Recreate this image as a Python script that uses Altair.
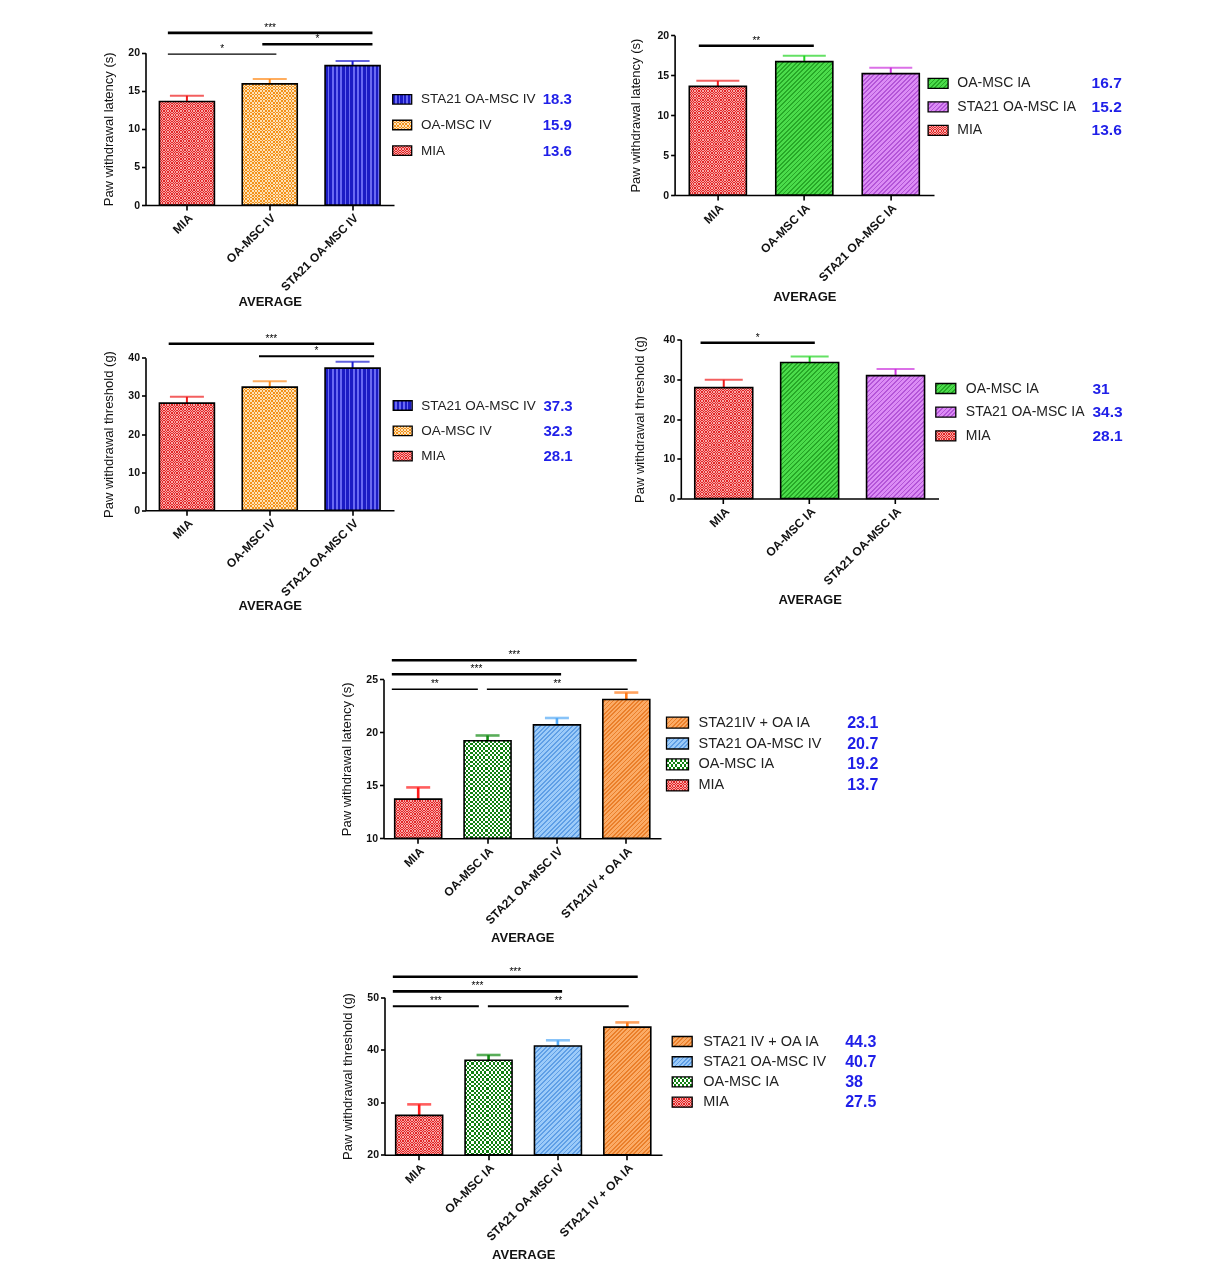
import math
import altair as alt
import pandas as pd

FONT = "Liberation Sans"

# ---------------- data ----------------
# Panel A (top left): latency, IV groups
a_cats = ["MIA", "OA-MSC IV", "STA21 OA-MSC IV"]
a_means = [13.6, 15.9, 18.3]
a_sem = [0.75, 0.65, 0.6]
a_sig_from = ["MIA", "OA-MSC IV", "MIA"]
a_sig_to = ["STA21 OA-MSC IV", "STA21 OA-MSC IV", "OA-MSC IV"]
a_sig_level = [22.6, 21.1, 19.8]
a_sig_stars = ["***", "*", "*"]
a_leg_names = ["STA21 OA-MSC IV", "OA-MSC IV", "MIA"]
a_leg_values = [18.3, 15.9, 13.6]
a_ydom = [0, 20]
a_yticks = [0, 5, 10, 15, 20]

# Panel B (top right): latency, IA groups
b_cats = ["MIA", "OA-MSC IA", "STA21 OA-MSC IA"]
b_means = [13.6, 16.7, 15.2]
b_sem = [0.7, 0.75, 0.75]
b_sig_from = ["MIA"]
b_sig_to = ["OA-MSC IA"]
b_sig_level = [18.7]
b_sig_stars = ["**"]
b_leg_names = ["OA-MSC IA", "STA21 OA-MSC IA", "MIA"]
b_leg_values = [16.7, 15.2, 13.6]
b_ydom = [0, 20]
b_yticks = [0, 5, 10, 15, 20]

# Panel C (middle left): threshold, IV groups
c_cats = ["MIA", "OA-MSC IV", "STA21 OA-MSC IV"]
c_means = [28.1, 32.3, 37.3]
c_sem = [1.65, 1.55, 1.65]
c_sig_from = ["MIA", "OA-MSC IV"]
c_sig_to = ["STA21 OA-MSC IV", "STA21 OA-MSC IV"]
c_sig_level = [43.7, 40.4]
c_sig_stars = ["***", "*"]
c_leg_names = ["STA21 OA-MSC IV", "OA-MSC IV", "MIA"]
c_leg_values = [37.3, 32.3, 28.1]
c_ydom = [0, 40]
c_yticks = [0, 10, 20, 30, 40]

# Panel D (middle right): threshold, IA groups
d_cats = ["MIA", "OA-MSC IA", "STA21 OA-MSC IA"]
d_means = [27.9, 34.2, 30.9]
d_sem = [1.95, 1.5, 1.7]
d_sig_from = ["MIA"]
d_sig_to = ["OA-MSC IA"]
d_sig_level = [39.2]
d_sig_stars = ["*"]
d_leg_names = ["OA-MSC IA", "STA21 OA-MSC IA", "MIA"]
d_leg_values = [31, 34.3, 28.1]
d_ydom = [0, 40]
d_yticks = [0, 10, 20, 30, 40]

# Panel E: latency, combined
e_cats = ["MIA", "OA-MSC IA", "STA21 OA-MSC IV", "STA21IV + OA IA"]
e_means = [13.7, 19.2, 20.7, 23.1]
e_sem = [1.1, 0.5, 0.65, 0.65]
e_sig_from = ["MIA", "MIA", "MIA", "OA-MSC IA"]
e_sig_to = ["STA21IV + OA IA", "STA21 OA-MSC IV", "OA-MSC IA", "STA21IV + OA IA"]
e_sig_level = [26.8, 25.47, 24.06, 24.06]
e_sig_stars = ["***", "***", "**", "**"]
e_leg_names = ["STA21IV + OA IA", "STA21 OA-MSC IV", "OA-MSC IA", "MIA"]
e_leg_values = [23.1, 20.7, 19.2, 13.7]
e_ydom = [10, 25]
e_yticks = [10, 15, 20, 25]

# Panel F: threshold, combined
f_cats = ["MIA", "OA-MSC IA", "STA21 OA-MSC IV", "STA21 IV + OA IA"]
f_means = [27.5, 38.0, 40.7, 44.3]
f_sem = [2.1, 1.0, 1.1, 0.9]
f_sig_from = ["MIA", "MIA", "MIA", "OA-MSC IA"]
f_sig_to = ["STA21 IV + OA IA", "STA21 OA-MSC IV", "OA-MSC IA", "STA21 IV + OA IA"]
f_sig_level = [53.9, 51.1, 48.3, 48.3]
f_sig_stars = ["***", "***", "***", "**"]
f_leg_names = ["STA21 IV + OA IA", "STA21 OA-MSC IV", "OA-MSC IA", "MIA"]
f_leg_values = [44.3, 40.7, 38, 27.5]
f_ydom = [20, 50]
f_yticks = [20, 30, 40, 50]

LAT = "Paw withdrawal latency (s)"
THR2 = "Paw withdrawal  threshold (g)"
THR = "Paw withdrawal threshold (g)"


# ---------------- fill patterns (style only) ----------------
def stripes(c1, c2, n, frac, x2, y2):
    stops = []
    for k in range(n):
        a, b, c = k / n, (k + frac) / n, (k + 1) / n
        stops += [{"offset": a, "color": c1}, {"offset": b, "color": c1},
                  {"offset": b, "color": c2}, {"offset": c, "color": c2}]
    return {"gradient": "linear", "x1": 0, "y1": 0, "x2": x2, "y2": y2, "stops": stops}


def diag(c1, c2, W, H, pitch, frac):
    s = W * (W + H) / (W * W + H * H)
    n = max(1, round((W + H) / math.sqrt(2) / pitch))
    return stripes(c1, c2, n, frac, s, s * H / W)


def hex_rgb(h):
    return [int(h[i:i + 2], 16) for i in (1, 3, 5)]


def screen_colour(dark, light):
    # colour S such that multiply(S, light) == dark
    d, l = hex_rgb(dark), hex_rgb(light)
    return "#" + "".join("%02x" % min(255, round(255 * a / max(b, 1))) for a, b in zip(d, l))


def pattern_layers(make, spec, W, H):
    kind = spec[0]
    if kind == "solid":
        return [make(fill=spec[1], stroke="black")]
    if kind == "vstripe":
        n = max(1, round(W / spec[3]))
        return [make(fill=stripes(spec[1], spec[2], n, 0.6, 1, 0), stroke="black")]
    if kind == "diag":
        return [make(fill=diag(spec[1], spec[2], W, H, spec[3], 0.6), stroke="black")]
    # checkerboard: black/white XOR pattern, then tinted dark/light
    dark, light, pitch = spec[1], spec[2], spec[3]
    nx = max(1, round(W / pitch))
    ny = max(1, round(H / pitch))
    return [make(fill=stripes("#000000", "#ffffff", nx, 0.5, 1, 0), strokeWidth=0),
            make(fill=stripes("#000000", "#ffffff", ny, 0.5, 0, 1), strokeWidth=0, blend="difference"),
            make(fill=screen_colour(dark, light), strokeWidth=0, blend="lighten"),
            make(fill=light, strokeWidth=0, blend="multiply"),
            make(fill="transparent", stroke="black")]


P_RED = ("check", "#e32626", "#f8a6a6", 2.6)
P_ORL = ("check", "#f3921a", "#fde2b8", 3.3)
P_BLUE = ("vstripe", "#1c1cc4", "#6a6af2", 4.2)
P_GREEN = ("diag", "#4bdc4b", "#27a827", 3.2)
P_PURPLE = ("diag", "#dc8cf5", "#b455d8", 3.2)
P_GCK = ("check", "#118011", "#ffffff", 4.4)
P_LBLUE = ("diag", "#9ccbf9", "#5f9fe6", 3.2)
P_ORANGE = ("diag", "#fbab66", "#ea7f2a", 3.0)

A_style = dict(pw=248.5, ph=152.3, mt=32.7, W=440, pin=0.336, cap=34, errw=2, ttx=-37, tty=96,
               sig_fs=[0.27, 0.41, 0.27], sig_fe=[0.74, 0.74, 0.58], sig_w=[2.6, 2.6, 1.2],
               leg_y=[46.6, 98], sw_x=256.7, sw_w=19, name_x=275.5, val_x=397.2, name_fs=13.5, val_fs=15,
               fills={"MIA": P_RED, "OA-MSC IV": P_ORL, "STA21 OA-MSC IV": P_BLUE},
               errc=["#ee1b1b", "#ff8a1a", "#1c1cd0"])
B_style = dict(pw=259.4, ph=159.7, mt=15.3, W=460, pin=0.34, cap=43, errw=2, ttx=-39, tty=101,
               sig_fs=[0.28], sig_fe=[0.61], sig_w=[2.6],
               leg_y=[48, 95], sw_x=263.5, sw_w=20, name_x=282.7, val_x=417, name_fs=14, val_fs=15.5,
               fills={"MIA": P_RED, "OA-MSC IA": P_GREEN, "STA21 OA-MSC IA": P_PURPLE},
               errc=["#ee1b1b", "#22d422", "#cc33dd"])
C_style = dict(pw=248.5, ph=152.4, mt=28.3, W=440, pin=0.336, cap=34, errw=2, ttx=-37, tty=95,
               sig_fs=[0.28, 0.37], sig_fe=[0.76, 0.76], sig_w=[2.6, 2.0],
               leg_y=[47.7, 98.4], sw_x=257.2, sw_w=19, name_x=275.7, val_x=398, name_fs=13.5, val_fs=15,
               fills={"MIA": P_RED, "OA-MSC IV": P_ORL, "STA21 OA-MSC IV": P_BLUE},
               errc=["#ee1b1b", "#ff8a1a", "#1c1cd0"])
D_style = dict(pw=257.7, ph=159, mt=10, W=460, pin=0.325, cap=38, errw=2, ttx=-41.6, tty=101,
               sig_fs=[0.23], sig_fe=[0.56], sig_w=[2.6],
               leg_y=[49, 96.3], sw_x=265, sw_w=20, name_x=285, val_x=411.7, name_fs=14, val_fs=15.5,
               fills={"MIA": P_RED, "OA-MSC IA": P_GREEN, "STA21 OA-MSC IA": P_PURPLE},
               errc=["#ee1b1b", "#22d422", "#cc33dd"])
E_style = dict(pw=277.5, ph=159, mt=45.3, W=510, pin=0.323, cap=24, errw=2.6, ttx=-37, tty=99,
               sig_fs=[0.12, 0.12, 0.12, 0.49], sig_fe=[0.65, 0.56, 0.36, 0.52], sig_w=[2.6, 2.6, 1.6, 1.6],
               leg_y=[43.3, 106], sw_x=294, sw_w=22, name_x=315, val_x=463.7, name_fs=14.5, val_fs=16,
               fills={"MIA": P_RED, "OA-MSC IA": P_GCK, "STA21 OA-MSC IV": P_LBLUE, "STA21IV + OA IA": P_ORANGE},
               errc=["#ff1a1a", "#138a13", "#55aaf5", "#ff7a1a"])
F_style = dict(pw=277.5, ph=157.6, mt=29.7, W=510, pin=0.323, cap=24, errw=2.6, ttx=-37, tty=100,
               sig_fs=[0.12, 0.12, 0.12, 0.49], sig_fe=[0.65, 0.56, 0.36, 0.52], sig_w=[2.6, 2.6, 2.0, 2.0],
               leg_y=[44.3, 105], sw_x=297.7, sw_w=20, name_x=318.7, val_x=460.7, name_fs=14.5, val_fs=16,
               fills={"MIA": P_RED, "OA-MSC IA": P_GCK, "STA21 OA-MSC IV": P_LBLUE, "STA21 IV + OA IA": P_ORANGE},
               errc=["#ff1a1a", "#138a13", "#55aaf5", "#ff7a1a"])

SWATCH = "M-1,-0.5L1,-0.5L1,0.5L-1,0.5Z"
VALUE_BLUE = "#1f1fe8"


def build_panel(cats, means, sem, ytitle, ydom, yticks,
                sig_from, sig_to, sig_level, sig_stars,
                leg_names, leg_values, st):
    n = len(cats)
    H = st["mt"] + st["ph"]
    df = pd.DataFrame({"cat": cats, "mean": means, "sem": sem})
    df["ec"] = st["errc"]

    xs = alt.Scale(domain=cats, range=[0, st["pw"]], paddingInner=st["pin"], paddingOuter=st["pin"] / 2)
    ys = alt.Scale(domain=ydom, nice=False, zero=False, range=[H, st["mt"]])
    xax = alt.Axis(title="AVERAGE", labelAngle=-45, labelFontSize=12, labelFontWeight="bold",
                   labelFont=FONT, labelColor="#111", domainColor="black", domainWidth=1.6,
                   tickColor="black", tickWidth=1.6, tickSize=5, labelPadding=2, labelOverlap=False,
                   titleFont=FONT, titleFontSize=13, titleFontWeight="bold", titleColor="#111",
                   titleY=st["tty"], titleBaseline="middle")
    yax = alt.Axis(title=ytitle, values=yticks, grid=False, domainColor="black", domainWidth=1.6,
                   tickColor="black", tickWidth=1.6, tickSize=4, labelPadding=2, labelFontSize=10.5,
                   labelFontWeight="bold", labelColor="#111", labelFont=FONT, titleFont=FONT,
                   titleFontSize=13, titleFontWeight="normal", titleColor="#111",
                   titleX=st["ttx"], titleBaseline="middle")
    X = alt.X("cat:N", scale=xs, axis=xax, sort=cats)
    Y = alt.Y("mean:Q", scale=ys, axis=yax)
    ccol = alt.Color("ec:N", scale=None)

    base = alt.Chart(df)
    err = base.transform_calculate(top="datum.mean + datum.sem").mark_rule(
        strokeWidth=st["errw"]).encode(x=X, y=Y, y2="top:Q", color=ccol)
    caps = base.transform_calculate(top="datum.mean + datum.sem").mark_tick(
        size=st["cap"], thickness=st["errw"]).encode(
        x=X, y=alt.Y("top:Q", scale=ys, axis=yax), color=ccol)

    bw = st["pw"] / n * (1 - st["pin"])
    bars = []
    for c, m in zip(cats, means):
        bh = (m - ydom[0]) / (ydom[1] - ydom[0]) * st["ph"]
        bf = base.transform_filter(alt.datum.cat == c)

        def make_bar(bf=bf, **kw):
            kw.setdefault("strokeWidth", 1.6)
            return bf.mark_bar(**kw).encode(x=X, y=Y, y2=alt.datum(ydom[0]))
        bars += pattern_layers(make_bar, st["fills"][c], bw, bh)
    plot = alt.layer(err, caps, *bars)

    idx = {c: i for i, c in enumerate(cats)}
    start = [idx[a] + fs for a, fs in zip(sig_from, st["sig_fs"])]
    end = [idx[b] + fe for b, fe in zip(sig_to, st["sig_fe"])]
    sdf = pd.DataFrame({"start": start, "end": end, "level": sig_level, "stars": sig_stars,
                        "w": st["sig_w"]})
    sdf["mid"] = (sdf["start"] + sdf["end"]) / 2
    sx = alt.Scale(domain=[0, n], range=[0, st["pw"]], nice=False, zero=False)
    sbase = alt.Chart(sdf)
    srule = sbase.mark_rule(color="black").encode(
        x=alt.X("start:Q", scale=sx, axis=None), x2="end:Q",
        y=alt.Y("level:Q", scale=ys, axis=yax),
        strokeWidth=alt.StrokeWidth("w:Q", scale=None))
    stext = sbase.mark_text(baseline="alphabetic", dy=-2, fontSize=10, font=FONT, color="black").encode(
        x=alt.X("mid:Q", scale=sx, axis=None), y=alt.Y("level:Q", scale=ys, axis=yax), text="stars:N")
    sig = alt.layer(srule, stext)

    core = alt.layer(plot, sig).resolve_scale(x="independent")

    k = len(leg_names)
    ldf = pd.DataFrame({"name": leg_names, "val": leg_values, "row": list(range(k))})
    ly = alt.Y("row:O", scale=alt.Scale(type="point", domain=list(range(k)), padding=0,
                                          range=[st["mt"] + st["leg_y"][0], st["mt"] + st["leg_y"][1]]),
               axis=None)
    lbase = alt.Chart(ldf)
    sws = []
    for nm in leg_names:
        lf = lbase.transform_filter(alt.datum.name == nm)

        def make_sw(lf=lf, **kw):
            kw.setdefault("strokeWidth", 1.3)
            return lf.mark_point(shape=SWATCH, size=st["sw_w"] ** 2, filled=True, opacity=1,
                                 **kw).encode(x=alt.value(st["sw_x"]), y=ly)
        sws += pattern_layers(make_sw, st["fills"][nm], st["sw_w"], st["sw_w"] / 2)
    names = lbase.mark_text(align="left", baseline="middle", fontSize=st["name_fs"], font=FONT,
                            color="#222").encode(x=alt.value(st["name_x"]), y=ly, text="name:N")
    vals = lbase.mark_text(align="left", baseline="middle", fontSize=st["val_fs"], font=FONT,
                           fontWeight="bold", color=VALUE_BLUE).encode(
        x=alt.value(st["val_x"]), y=ly, text="val:Q")
    legend = alt.layer(*sws, names, vals)

    return alt.layer(core, legend).resolve_scale(y="independent").properties(width=st["W"], height=H)


def spacer(w):
    return alt.Chart(pd.DataFrame({"k": [0]})).mark_rule(opacity=0).encode(
        x=alt.value(0), x2=alt.value(w), y=alt.value(0)).properties(width=w, height=10)


pA = build_panel(a_cats, a_means, a_sem, LAT, a_ydom, a_yticks, a_sig_from, a_sig_to, a_sig_level,
                 a_sig_stars, a_leg_names, a_leg_values, A_style)
pB = build_panel(b_cats, b_means, b_sem, LAT, b_ydom, b_yticks, b_sig_from, b_sig_to, b_sig_level,
                 b_sig_stars, b_leg_names, b_leg_values, B_style)
pC = build_panel(c_cats, c_means, c_sem, THR2, c_ydom, c_yticks, c_sig_from, c_sig_to, c_sig_level,
                 c_sig_stars, c_leg_names, c_leg_values, C_style)
pD = build_panel(d_cats, d_means, d_sem, THR2, d_ydom, d_yticks, d_sig_from, d_sig_to, d_sig_level,
                 d_sig_stars, d_leg_names, d_leg_values, D_style)
pE = build_panel(e_cats, e_means, e_sem, LAT, e_ydom, e_yticks, e_sig_from, e_sig_to, e_sig_level,
                 e_sig_stars, e_leg_names, e_leg_values, E_style)
pF = build_panel(f_cats, f_means, f_sem, THR, f_ydom, f_yticks, f_sig_from, f_sig_to, f_sig_level,
                 f_sig_stars, f_leg_names, f_leg_values, F_style)

row1 = alt.hconcat(pA, pB, spacing=44.1)
row2 = alt.hconcat(pC, pD, spacing=47.3)
row3 = alt.hconcat(spacer(195), pE, spacing=0)
row4 = alt.hconcat(spacer(195), pF, spacing=0)

chart = alt.vconcat(row1, row2, row3, row4, spacing=21.5).properties(
    padding={"left": 94.5, "top": 12, "right": 5, "bottom": 5},
    background="white",
).configure(font=FONT).configure_view(stroke="transparent", strokeWidth=0)

chart.save("out.html", embed_options={"renderer": "svg", "actions": False})
